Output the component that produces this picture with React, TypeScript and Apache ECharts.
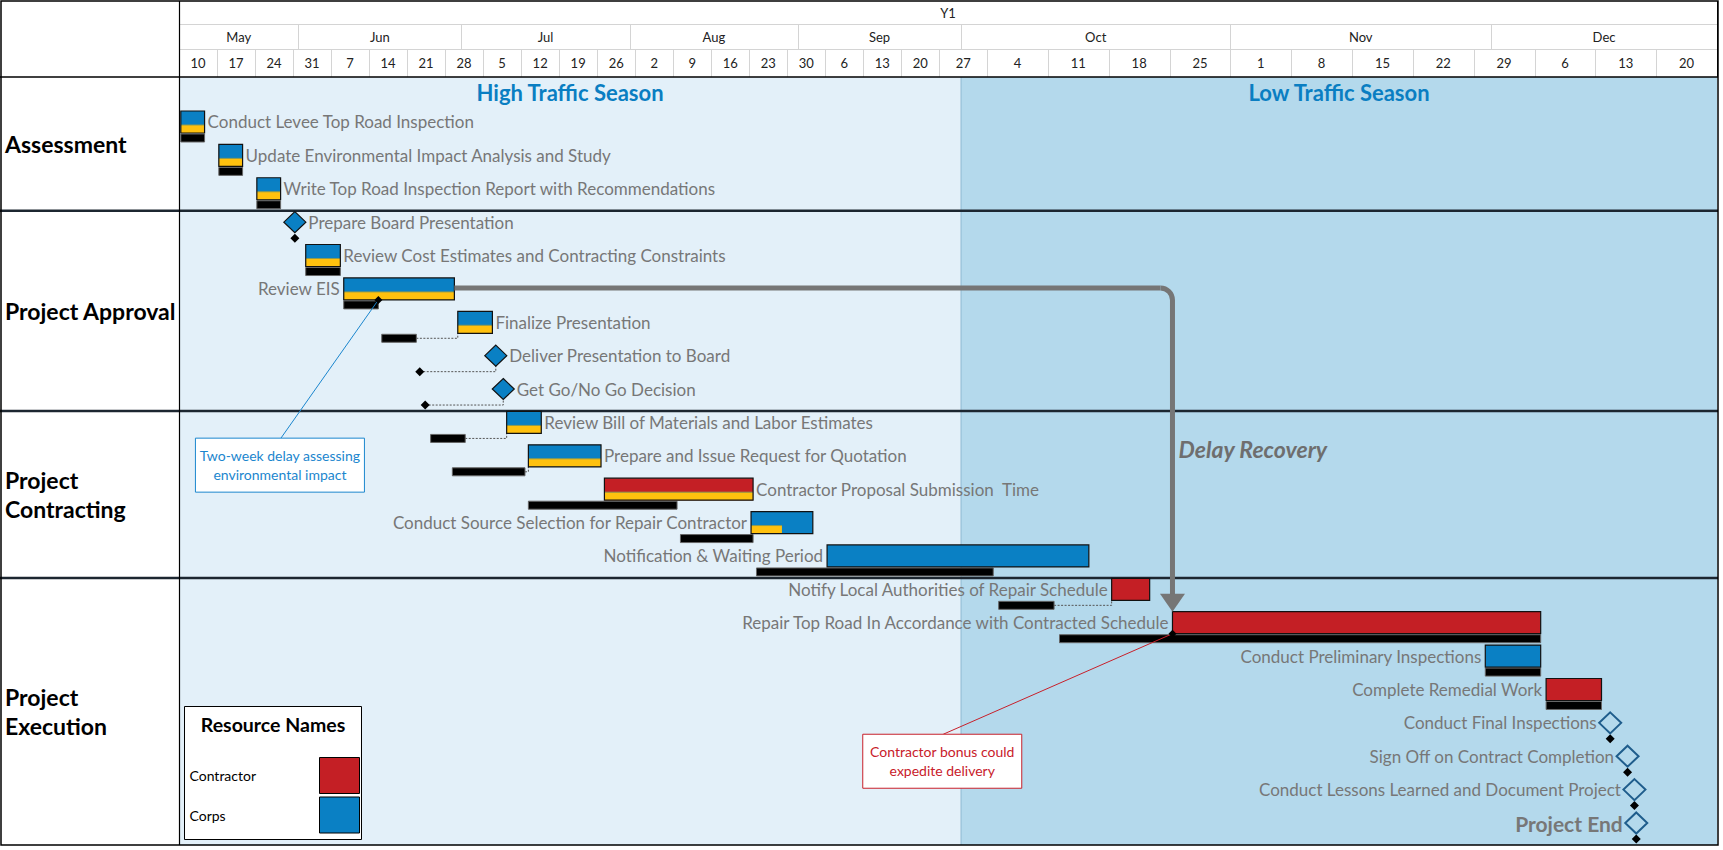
import React, { useEffect, useRef } from 'react';
import * as echarts from 'echarts';

// ---------------- DATA ----------------
const YEAR = 2021;
const TIMESCALE_START = '05-10';
const TIMESCALE_END = '12-27';
const SCALE_CHANGE = '10-01';
const SCALE_CHANGE_FACTOR = 1.6;

const headerTitle = 'Y1';
const monthLabels = ['May', 'Jun', 'Jul', 'Aug', 'Sep', 'Oct', 'Nov', 'Dec'];
const monthStarts = ['05-10', '06-01', '07-01', '08-01', '09-01', '10-01', '11-01', '12-01'];
const weekStarts = ['05-10', '05-17', '05-24', '05-31', '06-07', '06-14', '06-21', '06-28', '07-05', '07-12', '07-19', '07-26',
  '08-02', '08-09', '08-16', '08-23', '08-30', '09-06', '09-13', '09-20', '09-27', '10-04', '10-11', '10-18', '10-25',
  '11-01', '11-08', '11-15', '11-22', '11-29', '12-06', '12-13', '12-20'];
const weekLabels = ['10', '17', '24', '31', '7', '14', '21', '28', '5', '12', '19', '26', '2', '9', '16', '23', '30', '6',
  '13', '20', '27', '4', '11', '18', '25', '1', '8', '15', '22', '29', '6', '13', '20'];

const seasonNames = ['High Traffic Season', 'Low Traffic Season'];
const seasonStarts = ['05-10', '10-01'];
const seasonEnds = ['10-01', '12-27'];

const sectionNames = ['Assessment', 'Project Approval', 'Project\nContracting', 'Project\nExecution'];
const sectionLastRows = [2, 8, 13, 21];

const taskNames = [
  'Conduct Levee Top Road Inspection',
  'Update Environmental Impact Analysis and Study',
  'Write Top Road Inspection Report with Recommendations',
  'Prepare Board Presentation',
  'Review Cost Estimates and Contracting Constraints',
  'Review EIS',
  'Finalize Presentation',
  'Deliver Presentation to Board',
  'Get Go/No Go Decision',
  'Review Bill of Materials and Labor Estimates',
  'Prepare and Issue Request for Quotation',
  'Contractor Proposal Submission  Time',
  'Conduct Source Selection for Repair Contractor',
  'Notification & Waiting Period',
  'Notify Local Authorities of Repair Schedule',
  'Repair Top Road In Accordance with Contracted Schedule',
  'Conduct Preliminary Inspections',
  'Complete Remedial Work',
  'Conduct Final Inspections',
  'Sign Off on Contract Completion',
  'Conduct Lessons Learned and Document Project',
  'Project End',
];
// start dates (08:00 unless an hour is given), end dates (17:00 unless given); null end = milestone
const taskStarts = ['05-10', '05-17', '05-24', '05-31 08', '06-02', '06-09', '06-30', '07-07 08', '07-08 17', '07-09',
  '07-13', '07-27', '08-23', '09-06', '10-18', '10-25', '11-30', '12-07', '12-14 17', '12-16 17', '12-17 12', '12-17 17'];
const taskEnds = ['05-14', '05-21', '05-28', null, '06-08', '06-29', '07-06', null, null, '07-15', '07-26', '08-23',
  '09-03', '10-15', '10-22', '12-06', '12-06', '12-13', null, null, null, null];
const baselineStarts = ['05-10', '05-17', '05-24', '05-31 08', '06-02', '06-09', '06-16', '06-23 08', '06-24 08', '06-25',
  '06-29', '07-13', '08-10', '08-24', '10-05', '10-12', '11-30', '12-07', '12-14 17', '12-16 17', '12-17 12', '12-17 17'];
const baselineEnds = ['05-14', '05-21', '05-28', null, '06-08', '06-15', '06-22', null, null, '07-01', '07-12', '08-09',
  '08-23', '10-04', '10-11', '12-06', '12-06', '12-13', null, null, null, null];
const taskResources = ['Corps', 'Corps', 'Corps', 'Corps', 'Corps', 'Corps', 'Corps', 'Corps', 'Corps', 'Corps', 'Corps',
  'Contractor', 'Corps', 'Corps', 'Contractor', 'Contractor', 'Corps', 'Contractor', 'Corps', 'Corps', 'Corps', 'Corps'];
const taskProgress = [100, 100, 100, 100, 100, 100, 100, 100, 100, 100, 100, 100, 50, 0, 0, 0, 0, 0, 0, 0, 0, 0];
const taskLabelSides = ['right', 'right', 'right', 'right', 'right', 'left', 'right', 'right', 'right', 'right', 'right',
  'right', 'left', 'left', 'left', 'left', 'left', 'left', 'left', 'left', 'left', 'left'];

const resourceNames = ['Contractor', 'Corps'];
const legendTitle = 'Resource Names';

const delayFromTask = 5;
const delayToTask = 15;
const delayLabel = 'Delay Recovery';
const delayLabelDate = '11-03 14';
const delayLabelRow = 9.84;

const calloutTexts = [['Two-week delay assessing', 'environmental impact'], ['Contractor bonus could', 'expedite delivery']];
const calloutAnchorDates = ['06-15 17', '10-25 08'];
const calloutAnchorTasks = [5, 15];
const calloutBoxDates = ['05-28 14', '09-27 13'];
const calloutBoxRows = [10.31, 19.18];

// ---------------- STYLE ----------------
const RESOURCE_COLORS: Record<string, string> = { Contractor: '#C41F25', Corps: '#0A80C4' };
const PROGRESS_COLOR = '#FFC10E';
const SEASON_FILLS = ['#E3F0F9', '#B4D9EC'];
const SEASON_TEXT = '#0A7EC2';
const LABEL_GREY = '#777777';
const OUTLINE_MILESTONE = '#1F5D8C';
const CALLOUT_COLORS = ['#1B86CE', '#C8202A'];
const CALLOUT_BOX_W = [169, 159];
const CALLOUT_BOX_H = 54;
const FONT = 'Lato, "Noto Sans", sans-serif';
const GRID = { left: 179, right: 6, top: 77, bottom: 5 };
const ROW_PAD_TOP = 1.318;
const ROW_PAD_BOTTOM = 0.689;
const CHART_RIGHT = 1717;
const OUTER_RIGHT = 1718;
const OUTER_BOTTOM = 845;

// ---------------- SCALE ----------------
const DAY = 86400000;
const ORIGIN = Date.UTC(YEAR, 4, 10);
function toDays(s: string, defHour: number): number {
  const [md, hh] = s.split(' ');
  const [m, d] = md.split('-').map(Number);
  const h = hh !== undefined ? Number(hh) : defHour;
  return (Date.UTC(YEAR, m - 1, d) - ORIGIN) / DAY + h / 24;
}
const BREAK_DAYS = toDays(SCALE_CHANGE, 0);
function toUnits(days: number): number {
  return days <= BREAK_DAYS ? days : BREAK_DAYS + (days - BREAK_DAYS) * SCALE_CHANGE_FACTOR;
}
const X = (s: string, h = 0) => toUnits(toDays(s, h));

function diamond(cx: number, cy: number, hw: number, hh: number) {
  return [[cx, cy - hh], [cx + hw, cy], [cx, cy + hh], [cx - hw, cy]];
}

function buildOption() {
  const rowCount = taskNames.length;
  const xMin = X(TIMESCALE_START);
  const xMax = X(TIMESCALE_END);

  const bandSeries = {
    type: 'custom', z: 0, silent: true, clip: false,
    data: seasonNames.map((_, i) => [X(seasonStarts[i]), X(seasonEnds[i])]),
    renderItem: (params: any, api: any) => {
      const cs = params.coordSys;
      const i = params.dataIndex;
      const x0 = api.coord([api.value(0), 0])[0];
      const x1 = api.coord([api.value(1), 0])[0];
      const children: any[] = [
        { type: 'rect', shape: { x: x0, y: cs.y, width: x1 - x0, height: cs.height }, style: { fill: SEASON_FILLS[i] } },
        {
          type: 'text', x: (x0 + x1) / 2, y: cs.y + 15,
          style: { text: seasonNames[i], fill: SEASON_TEXT, fontSize: 22, fontWeight: 'bold', fontFamily: FONT, align: 'center', verticalAlign: 'middle' },
        },
      ];
      if (i > 0) children.push({ type: 'line', shape: { x1: x0, y1: cs.y, x2: x0, y2: cs.y + cs.height }, style: { stroke: '#8DB8D2', lineWidth: 1 } });
      return { type: 'group', children };
    },
  };

  const sectionSeries = {
    type: 'custom', z: 1, silent: true, clip: false,
    data: sectionNames.map((_, i) => [sectionLastRows[i]]),
    renderItem: (params: any, api: any) => {
      const cs = params.coordSys;
      const i = params.dataIndex;
      const top = i === 0 ? cs.y : api.coord([0, sectionLastRows[i - 1] + ROW_PAD_BOTTOM])[1];
      const bottom = i === sectionNames.length - 1 ? cs.y + cs.height : api.coord([0, api.value(0) + ROW_PAD_BOTTOM])[1];
      const children: any[] = [
        {
          type: 'text', x: 5, y: (top + bottom) / 2,
          style: { text: sectionNames[i], fill: '#000', fontSize: 23, fontWeight: 'bold', fontFamily: FONT, align: 'left', verticalAlign: 'middle', lineHeight: 29 },
        },
      ];
      if (i < sectionNames.length - 1) {
        children.push({ type: 'line', shape: { x1: 0, y1: bottom, x2: OUTER_RIGHT, y2: bottom }, style: { stroke: '#1C2630', lineWidth: 2.5 } });
      }
      return { type: 'group', children };
    },
  };

  const headerText = (text: string, x: number, y: number) => ({
    type: 'text', x, y,
    style: { text, fill: '#222', fontSize: 13, fontFamily: FONT, align: 'center', verticalAlign: 'middle' },
  });

  const titleSeries = {
    type: 'custom', z: 2, silent: true, clip: false,
    data: [[xMin, xMax]],
    renderItem: (params: any, api: any) => {
      const x0 = api.coord([api.value(0), 0])[0];
      const x1 = api.coord([api.value(1), 0])[0];
      return {
        type: 'group', children: [
          headerText(headerTitle, (x0 + x1) / 2, 13),
          { type: 'line', shape: { x1: x0, y1: 24.5, x2: x1, y2: 24.5 }, style: { stroke: '#D4D4D4', lineWidth: 1 } },
          { type: 'line', shape: { x1: x0, y1: 49.5, x2: x1, y2: 49.5 }, style: { stroke: '#D4D4D4', lineWidth: 1 } },
        ],
      };
    },
  };

  const monthSeries = {
    type: 'custom', z: 2, silent: true, clip: false,
    data: monthStarts.map((m, i) => [X(m), i < monthStarts.length - 1 ? X(monthStarts[i + 1]) : xMax]),
    renderItem: (params: any, api: any) => {
      const i = params.dataIndex;
      const x0 = api.coord([api.value(0), 0])[0];
      const x1 = api.coord([api.value(1), 0])[0];
      const children: any[] = [headerText(monthLabels[i], (x0 + x1) / 2, 37)];
      if (i < monthStarts.length - 1) children.push({ type: 'line', shape: { x1: Math.round(x1) + 0.5, y1: 24.5, x2: Math.round(x1) + 0.5, y2: 49.5 }, style: { stroke: '#D4D4D4', lineWidth: 1 } });
      return { type: 'group', children };
    },
  };

  const weekSeries = {
    type: 'custom', z: 2, silent: true, clip: false,
    data: weekStarts.map((w, i) => [X(w), i < weekStarts.length - 1 ? X(weekStarts[i + 1]) : xMax]),
    renderItem: (params: any, api: any) => {
      const i = params.dataIndex;
      const x0 = api.coord([api.value(0), 0])[0];
      const x1 = api.coord([api.value(1), 0])[0];
      const children: any[] = [headerText(weekLabels[i], (x0 + x1) / 2, 63)];
      if (i < weekStarts.length - 1) children.push({ type: 'line', shape: { x1: Math.round(x1) + 0.5, y1: 49.5, x2: Math.round(x1) + 0.5, y2: 77 }, style: { stroke: '#D4D4D4', lineWidth: 1 } });
      return { type: 'group', children };
    },
  };

  const taskData = taskNames.map((_, i) => {
    const s = X(taskStarts[i], 8);
    const e = taskEnds[i] ? X(taskEnds[i] as string, 17) : s;
    const bs = X(baselineStarts[i], 8);
    const be = baselineEnds[i] ? X(baselineEnds[i] as string, 17) : bs;
    return [s, e, i, bs, be, taskProgress[i]];
  });

  const taskSeries = {
    type: 'custom', z: 3, silent: true, clip: false,
    data: taskData,
    renderItem: (params: any, api: any) => {
      const i = params.dataIndex;
      const row = api.value(2);
      const [xs, cy] = api.coord([api.value(0), row]);
      const xe = api.coord([api.value(1), row])[0];
      const bxs = api.coord([api.value(3), row])[0];
      const bxe = api.coord([api.value(4), row])[0];
      const prog = api.value(5) / 100;
      const color = RESOURCE_COLORS[taskResources[i]];
      const isMilestone = taskEnds[i] === null;
      const children: any[] = [];
      const by = cy + 17;
      const side = taskLabelSides[i];
      const align = side === 'right' ? 'left' : 'right';
      let labelX: number;
      if (isMilestone) {
        if (bxs < xs - 1) {
          children.push({ type: 'polyline', shape: { points: [[bxs, by], [xs, by], [xs, cy + 11]] }, style: { stroke: '#555', lineWidth: 1, lineDash: [2, 1.5], fill: 'none' } });
        }
        children.push({ type: 'polygon', shape: { points: diamond(bxs, by, 4.5, 4.5) }, style: { fill: '#000' } });
        if (prog > 0) {
          children.push({ type: 'polygon', shape: { points: diamond(xs, cy + 1, 11, 10.5) }, style: { fill: color, stroke: '#111', lineWidth: 1.2 } });
        } else {
          children.push({ type: 'polygon', shape: { points: diamond(xs, cy + 1, 11, 10.5) }, style: { fill: 'none', stroke: OUTLINE_MILESTONE, lineWidth: 2 } });
        }
        labelX = side === 'right' ? xs + 13.5 : xs - 13.5;
      } else {
        if (bxe < xs - 1) {
          children.push({ type: 'polyline', shape: { points: [[bxe, by], [xs, by], [xs, cy + 12]] }, style: { stroke: '#555', lineWidth: 1, lineDash: [2, 1.5], fill: 'none' } });
        }
        children.push({ type: 'rect', shape: { x: bxs, y: cy + 13, width: bxe - bxs, height: 8 }, style: { fill: '#000', stroke: '#666', lineWidth: 1 } });
        children.push({ type: 'rect', shape: { x: xs, y: cy - 10, width: xe - xs, height: 22 }, style: { fill: color } });
        if (prog > 0) {
          children.push({ type: 'rect', shape: { x: xs, y: cy + 4, width: (xe - xs) * prog, height: 8 }, style: { fill: PROGRESS_COLOR } });
          children.push({ type: 'line', shape: { x1: xs, y1: cy + 4, x2: xs + (xe - xs) * prog, y2: cy + 4 }, style: { stroke: '#8C9A52', lineWidth: 1 } });
        }
        children.push({ type: 'rect', shape: { x: xs, y: cy - 10, width: xe - xs, height: 22 }, style: { fill: 'none', stroke: '#111', lineWidth: 1.2 } });
        labelX = side === 'right' ? xe + 3 : xs - 4;
      }
      const isEnd = i === taskNames.length - 1;
      children.push({
        type: 'text', x: labelX, y: cy + 1,
        style: {
          text: taskNames[i], fill: LABEL_GREY, fontSize: isEnd ? 21 : 17, fontWeight: isEnd ? 'bold' : 'normal',
          fontFamily: FONT, align, verticalAlign: 'middle',
        },
      });
      return { type: 'group', children };
    },
  };

  const arrowSeries = {
    type: 'custom', z: 4, silent: true, clip: false,
    data: [[X(taskEnds[delayFromTask] as string, 17), delayFromTask, X(taskStarts[delayToTask], 8), delayToTask, X(delayLabelDate), delayLabelRow]],
    renderItem: (params: any, api: any) => {
      const [x0, y0] = api.coord([api.value(0), api.value(1)]);
      const [x1, yRow] = api.coord([api.value(2), api.value(3)]);
      const [lx, ly] = api.coord([api.value(4), api.value(5)]);
      const tipY = yRow - 10;
      const r = 12;
      const headH = 18;
      const headW = 12.5;
      const st = { stroke: '#767676', lineWidth: 5, fill: 'none' };
      return {
        type: 'group', children: [
          { type: 'line', shape: { x1: x0, y1: y0, x2: x1 - r, y2: y0 }, style: st },
          { type: 'arc', shape: { cx: x1 - r, cy: y0 + r, r, startAngle: -Math.PI / 2, endAngle: 0, clockwise: true }, style: st },
          { type: 'line', shape: { x1: x1, y1: y0 + r, x2: x1, y2: tipY - headH + 1 }, style: st },
          { type: 'polygon', shape: { points: [[x1 - headW, tipY - headH], [x1 + headW, tipY - headH], [x1, tipY]] }, style: { fill: '#767676' } },
          {
            type: 'text', x: lx, y: ly,
            style: { text: delayLabel, fill: '#6E6E6E', fontSize: 23, fontWeight: 'bold', fontStyle: 'italic', fontFamily: FONT, align: 'center', verticalAlign: 'middle' },
          },
        ],
      };
    },
  };

  const calloutSeries = {
    type: 'custom', z: 5, silent: true, clip: false,
    data: calloutTexts.map((_, i) => [X(calloutAnchorDates[i]), calloutAnchorTasks[i], X(calloutBoxDates[i]), calloutBoxRows[i]]),
    renderItem: (params: any, api: any) => {
      const i = params.dataIndex;
      const [ax, arow] = api.coord([api.value(0), api.value(1)]);
      const ay = arow + 12;
      const [bx, byc] = api.coord([api.value(2), api.value(3)]);
      const w = CALLOUT_BOX_W[i];
      const h = CALLOUT_BOX_H;
      const col = CALLOUT_COLORS[i];
      return {
        type: 'group', children: [
          { type: 'line', shape: { x1: bx + 1, y1: byc - h / 2, x2: ax, y2: ay }, style: { stroke: col, lineWidth: 1 } },
          { type: 'polygon', shape: { points: diamond(ax, ay, 4, 4) }, style: { fill: '#000' } },
          { type: 'rect', shape: { x: bx - w / 2, y: byc - h / 2, width: w, height: h }, style: { fill: '#fff', stroke: col, lineWidth: 1 } },
          {
            type: 'text', x: bx, y: byc,
            style: { text: calloutTexts[i].join('\n'), fill: col, fontSize: 14, fontFamily: FONT, align: 'center', verticalAlign: 'middle', lineHeight: 19 },
          },
        ],
      };
    },
  };

  const legendX = 184.5;
  const legendY = 706.5;
  const graphic: any[] = [
    { type: 'rect', z: 100, shape: { x: 1, y: 1, width: OUTER_RIGHT - 1, height: OUTER_BOTTOM - 1 }, style: { fill: 'none', stroke: '#000', lineWidth: 1.5 } },
    { type: 'line', z: 100, shape: { x1: 179.5, y1: 1, x2: 179.5, y2: OUTER_BOTTOM }, style: { stroke: '#000', lineWidth: 1.2 } },
    { type: 'line', z: 100, shape: { x1: 0, y1: 77, x2: OUTER_RIGHT, y2: 77 }, style: { stroke: '#000', lineWidth: 1.5 } },
    { type: 'line', z: 100, shape: { x1: CHART_RIGHT + 0.5, y1: 1, x2: CHART_RIGHT + 0.5, y2: 77 }, style: { stroke: '#000', lineWidth: 1 } },
    { type: 'rect', z: 100, shape: { x: legendX, y: legendY, width: 177, height: 133 }, style: { fill: '#fff', stroke: '#000', lineWidth: 1 } },
    {
      type: 'text', z: 101, x: legendX + 88.5, y: legendY + 18,
      style: { text: legendTitle, fill: '#000', fontSize: 19.5, fontWeight: 'bold', fontFamily: FONT, align: 'center', verticalAlign: 'middle' },
    },
  ];
  resourceNames.forEach((n, i) => {
    const y = legendY + 51 + i * 39.5;
    graphic.push({ type: 'rect', z: 101, shape: { x: legendX + 135, y, width: 40, height: 36 }, style: { fill: RESOURCE_COLORS[n], stroke: '#000', lineWidth: 1 } });
    graphic.push({
      type: 'text', z: 101, x: legendX + 5, y: y + 18,
      style: { text: n, fill: '#000', fontSize: 14, fontFamily: FONT, align: 'left', verticalAlign: 'middle' },
    });
  });

  return {
    animation: false,
    backgroundColor: '#ffffff',
    grid: { left: GRID.left, right: GRID.right, top: GRID.top, bottom: GRID.bottom },
    xAxis: { type: 'value', min: xMin, max: xMax, show: false },
    yAxis: { type: 'value', inverse: true, min: -ROW_PAD_TOP, max: rowCount - 1 + ROW_PAD_BOTTOM, show: false },
    series: [bandSeries, sectionSeries, titleSeries, monthSeries, weekSeries, taskSeries, arrowSeries, calloutSeries],
    graphic,
  };
}

export default function App() {
  const ref = useRef<HTMLDivElement>(null);
  useEffect(() => {
    document.body.style.margin = '0';
    const chart = echarts.init(ref.current as HTMLDivElement, null, { renderer: 'svg' });
    chart.setOption(buildOption() as any);
    return () => chart.dispose();
  }, []);
  return <div ref={ref} style={{ width: 1723, height: 850 }} />;
}
